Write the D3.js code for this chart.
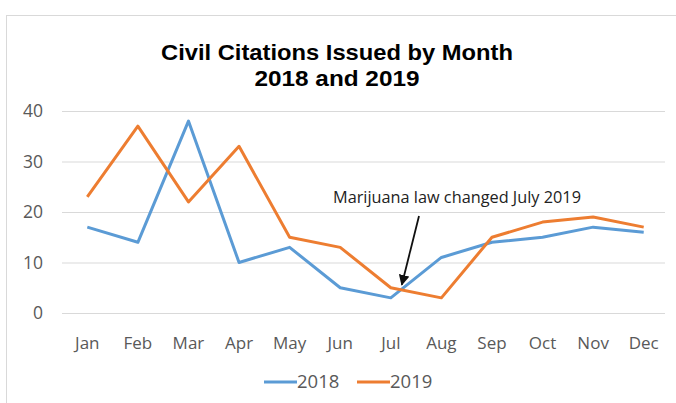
<!DOCTYPE html>
<html>
<head>
<meta charset="utf-8">
<script src="https://cdn.jsdelivr.net/npm/d3@7"></script>
<style>
  body { margin: 0; background: #fff; }
  #chart { width: 676px; height: 403px; }
</style>
</head>
<body>
<div id="chart"></div>
<script>
const months = ["Jan", "Feb", "Mar", "Apr", "May", "Jun", "Jul", "Aug", "Sep", "Oct", "Nov", "Dec"];
const values2018 = [17, 14, 38, 10, 13, 5, 3, 11, 14, 15, 17, 16];
const values2019 = [23, 37, 22, 33, 15, 13, 5, 3, 15, 18, 19, 17];
const yTicks = [0, 10, 20, 30, 40];
const titleLines = ["Civil Citations Issued by Month", "2018 and 2019"];
const annotation = "Marijuana law changed July 2019";

const width = 676, height = 403;
const margin = {top: 111, right: 7, bottom: 90, left: 62};

const svg = d3.select("#chart").append("svg")
    .attr("width", width)
    .attr("height", height);

// chart area border
svg.append("rect")
    .attr("x", 6.5).attr("y", 15.5)
    .attr("width", 700).attr("height", 420)
    .attr("fill", "#fff")
    .attr("stroke", "#d9d9d9");

const x = d3.scaleBand()
    .domain(months)
    .range([margin.left, width - margin.right]);

const y = d3.scaleLinear()
    .domain([0, 40])
    .range([313, margin.top]);

// gridlines
svg.append("g")
    .selectAll("line")
    .data(yTicks)
    .join("line")
    .attr("x1", margin.left).attr("x2", width - 11)
    .attr("y1", d => y(d) + 0.5).attr("y2", d => y(d) + 0.5)
    .attr("stroke", "#d9d9d9").attr("stroke-width", 1);

const axisFont = "'Open Sans', sans-serif";

const yAxis = svg.append("g")
    .attr("transform", `translate(${margin.left - 19},0)`)
    .call(d3.axisLeft(y).tickValues(yTicks).tickSize(0).tickPadding(0));
yAxis.select(".domain").remove();
yAxis.selectAll("text")
    .attr("font-family", axisFont)
    .attr("font-size", 17.5)
    .attr("fill", "#595959");

const xAxis = svg.append("g")
    .attr("transform", `translate(0,${y(0) + 24})`)
    .call(d3.axisBottom(x).tickSize(0).tickPadding(0));
xAxis.select(".domain").remove();
xAxis.selectAll("text")
    .attr("font-family", axisFont)
    .attr("font-size", 17)
    .attr("fill", "#595959");

const line = d3.line()
    .x((d, i) => x(months[i]) + x.bandwidth() / 2)
    .y(d => y(d));

svg.append("path")
    .datum(values2018)
    .attr("fill", "none")
    .attr("stroke", "#5b9bd5")
    .attr("stroke-width", 3)
    .attr("stroke-linejoin", "round")
    .attr("d", line);

svg.append("path")
    .datum(values2019)
    .attr("fill", "none")
    .attr("stroke", "#ed7d31")
    .attr("stroke-width", 3)
    .attr("stroke-linejoin", "round")
    .attr("d", line);

// title
const titleWidths = [352, 165];
svg.append("g")
    .selectAll("text")
    .data(titleLines)
    .join("text")
    .attr("x", 337)
    .attr("y", (d, i) => 60 + i * 26)
    .attr("text-anchor", "middle")
    .attr("font-family", "'Liberation Sans', Arial, sans-serif")
    .attr("font-weight", "bold")
    .attr("font-size", 22)
    .attr("textLength", (d, i) => titleWidths[i])
    .attr("lengthAdjust", "spacingAndGlyphs")
    .attr("fill", "#000")
    .text(d => d);

// annotation
svg.append("text")
    .attr("x", 333)
    .attr("y", 203)
    .attr("font-family", axisFont)
    .attr("font-size", 16.3)
    .attr("fill", "#222")
    .text(annotation);

svg.append("defs").append("marker")
    .attr("id", "arrow")
    .attr("viewBox", "0 0 10 10")
    .attr("refX", 9).attr("refY", 5)
    .attr("markerWidth", 6).attr("markerHeight", 6)
    .attr("orient", "auto")
    .append("path")
    .attr("d", "M0,0 L10,5 L0,10 z")
    .attr("fill", "#111");

svg.append("line")
    .attr("x1", 419).attr("y1", 216)
    .attr("x2", x("Jul") + x.bandwidth() / 2 + 11).attr("y2", y(5) - 3)
    .attr("stroke", "#111")
    .attr("stroke-width", 1.8)
    .attr("marker-end", "url(#arrow)");

// legend
const legendItems = [
    {name: "2018", color: "#5b9bd5", x: 264},
    {name: "2019", color: "#ed7d31", x: 357}
];
const legend = svg.append("g")
    .selectAll("g")
    .data(legendItems)
    .join("g")
    .attr("transform", d => `translate(${d.x},382)`);
legend.append("line")
    .attr("x1", 0).attr("x2", 33)
    .attr("stroke", d => d.color)
    .attr("stroke-width", 3);
legend.append("text")
    .attr("x", 33)
    .attr("dy", "0.35em")
    .attr("font-family", axisFont)
    .attr("font-size", 18.5)
    .attr("fill", "#595959")
    .text(d => d.name);
</script>
</body>
</html>
